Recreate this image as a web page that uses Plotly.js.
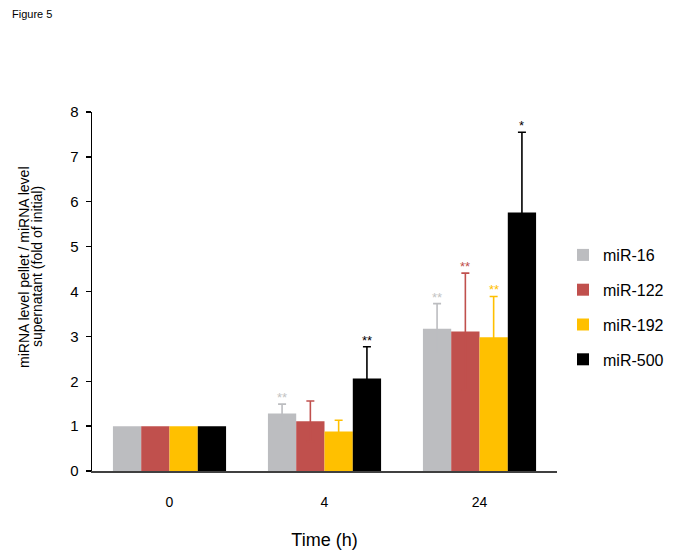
<!DOCTYPE html>
<html>
<head>
<meta charset="utf-8">
<script src="https://cdn.plot.ly/plotly-3.0.1.min.js"></script>
<style>html,body{margin:0;padding:0;background:#fff;}#chart{width:683px;height:556px;}</style>
</head>
<body>
<div id="chart"></div>
<script>
// ---- data ----
const categories = ["0", "4", "24"];
const seriesNames = ["miR-16", "miR-122", "miR-192", "miR-500"];
const mir16  = [1.0, 1.28, 3.17];
const mir122 = [1.0, 1.11, 3.11];
const mir192 = [1.0, 0.88, 2.98];
const mir500 = [1.0, 2.06, 5.76];
// NaN = no error bar drawn at time 0
const err16  = [NaN, 0.21, 0.56];
const err122 = [NaN, 0.45, 1.30];
const err192 = [NaN, 0.25, 0.91];
const err500 = [NaN, 0.71, 1.79];
const stars16  = ["", "**", "**"];
const stars122 = ["", "", "**"];
const stars192 = ["", "", "**"];
const stars500 = ["", "**", "*"];
const yTicks = [0, 1, 2, 3, 4, 5, 6, 7, 8];
const yTitleLines = ["miRNA level pellet / miRNA level", "supernatant (fold of initial)"];

// ---- style ----
const colors = ["#bcbdc0", "#c0504d", "#ffc000", "#000000"];
const starColors = ["#c3c3c3", "#c0504d", "#ffc000", "#000000"];
const values = [mir16, mir122, mir192, mir500];
const errs = [err16, err122, err192, err500];
const stars = [stars16, stars122, stars192, stars500];

const W = 683, H = 556;
const margin = {l: 92, r: 126, t: 112, b: 85};
const bargap = 0.27;
const plotW = W - margin.l - margin.r;
const plotH = H - margin.t - margin.b;
const barW = plotW / categories.length * (1 - bargap) / seriesNames.length;
const FONT = "Liberation Sans, Arial, sans-serif";

// Error bars are symmetric and drawn in the bar's own colour: the lower half
// falls inside the bar and is invisible, so only the upper whisker shows.
const traces = seriesNames.map((name, i) => ({
  type: "bar",
  name: name,
  x: categories,
  y: values[i],
  legendgroup: name,
  marker: {color: colors[i], line: {width: 0}},
  error_y: {type: "data", symmetric: true, array: errs[i],
            color: colors[i], thickness: 1.6, width: 4},
  hoverinfo: "skip"
}));

const annotations = [];
seriesNames.forEach((name, i) => {
  categories.forEach((c, j) => {
    if (stars[i][j]) {
      annotations.push({
        x: j, y: values[i][j] + (isNaN(errs[i][j]) ? 0 : errs[i][j]), xref: "x", yref: "y",
        xshift: (i - (seriesNames.length - 1) / 2) * barW,
        yshift: -3,
        text: stars[i][j], showarrow: false, yanchor: "bottom", xanchor: "center",
        font: {family: FONT, size: 13, color: starColors[i]}
      });
    }
  });
});
yTitleLines.forEach((t, k) => {
  annotations.push({
    xref: "paper", yref: "paper", x: ((k === 0 ? 24 : 37) - margin.l) / plotW, y: (H - margin.b - 267) / plotH,
    xanchor: "center", yanchor: "middle", textangle: -90, showarrow: false,
    text: t,
    font: {family: FONT, size: 14, color: "#000"}
  });
});
annotations.push({
  xref: "paper", yref: "paper", x: (10 - margin.l) / plotW, y: (H - margin.b - 14) / plotH,
  xanchor: "left", yanchor: "middle", showarrow: false,
  text: "Figure 5",
  font: {family: FONT, size: 11, color: "#000"}
});

const layout = {
  width: W, height: H,
  margin: margin,
  paper_bgcolor: "#fff", plot_bgcolor: "#fff",
  barmode: "group", bargap: bargap, bargroupgap: 0,
  font: {family: FONT, color: "#000"},
  showlegend: true,
  legend: {x: (563 - margin.l) / plotW, y: (H - margin.b - 238) / plotH, xanchor: "left", yanchor: "top",
           font: {size: 16, color: "#000"}, tracegroupgap: 11, traceorder: "grouped", bgcolor: "rgba(0,0,0,0)"},
  xaxis: {
    type: "category", range: [-0.5, categories.length - 0.5], autorange: false,
    showgrid: false, zeroline: false,
    showline: true, linecolor: "#404040", linewidth: 2,
    ticks: "", ticklabelstandoff: 17,
    tickfont: {size: 14},
    title: {text: "Time (h)", font: {size: 18}, standoff: 25}
  },
  yaxis: {
    range: [0, 8], autorange: false, tickvals: yTicks, showgrid: false, zeroline: false,
    showline: true, linecolor: "#000", linewidth: 1.5,
    ticks: "outside", ticklen: 5, tickwidth: 1.3, tickcolor: "#000",
    ticklabelstandoff: 4,
    tickfont: {size: 15}
  },
  annotations: annotations
};

Plotly.newPlot("chart", traces, layout, {displayModeBar: false, staticPlot: true});
</script>
</body>
</html>
